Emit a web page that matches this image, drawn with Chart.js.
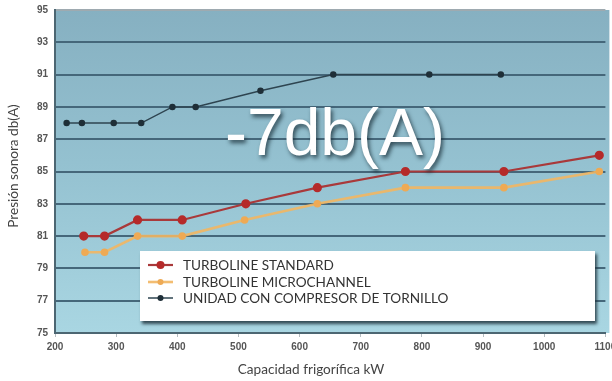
<!DOCTYPE html>
<html>
<head>
<meta charset="utf-8">
<script src="https://cdn.jsdelivr.net/npm/chart.js@4.4.1/dist/chart.umd.min.js"></script>
<style>
  html, body { margin: 0; padding: 0; background: #ffffff; }
  #wrap { width: 612px; height: 381px; }
</style>
</head>
<body>
<div id="wrap"><canvas id="c" width="612" height="381"></canvas></div>
<script>
// Capacidad frigorífica (kW) and sound pressure (dB(A)) per unit line
const kwTornillo = [219, 244, 296, 341, 392, 430, 536, 655, 812, 929];
const dbTornillo = [88, 88, 88, 88, 89, 89, 90, 91, 91, 91];

const kwStandard = [247, 281, 335, 408, 512, 629, 773, 934, 1090];
const dbStandard = [81, 81, 82, 82, 83, 84, 85, 85, 86];

const kwMicro = [249, 281, 335, 408, 510, 629, 773, 934, 1090];
const dbMicro = [80, 80, 81, 81, 82, 83, 84, 84, 85];

const seriesNames = ['TURBOLINE STANDARD', 'TURBOLINE MICROCHANNEL', 'UNIDAD CON COMPRESOR DE TORNILLO'];
const xTicks = [200, 300, 400, 500, 600, 700, 800, 900, 1000, 1100];
const yTicks = [75, 77, 79, 81, 83, 85, 87, 89, 91, 93, 95];
const bigLabel = '-7db(A)';
const yTitle = 'Presión sonora db(A)';
const xTitle = 'Capacidad frigorífica kW';

const toPoints = (xs, ys) => xs.map((x, i) => ({ x: x, y: ys[i] }));

// plot background gradient
const plotBackground = {
  id: 'plotBackground',
  beforeDraw(chart) {
    const { ctx, chartArea: a } = chart;
    const g = ctx.createLinearGradient(0, a.top, 0, a.bottom);
    g.addColorStop(0, '#86b0c1');
    g.addColorStop(0.5, '#95c2d1');
    g.addColorStop(1, '#a9d6e2');
    ctx.save();
    ctx.fillStyle = g;
    ctx.fillRect(a.left, a.top, a.right - a.left + 4, a.bottom - a.top);
    ctx.restore();
  }
};

// headline figure, axis titles and the boxed legend
const overlay = {
  id: 'overlay',
  afterDatasetsDraw(chart) {
    const { ctx } = chart;
    ctx.save();
    // big label
    ctx.font = '66px "Liberation Sans", Arial, sans-serif';
    ctx.textAlign = 'center';
    ctx.textBaseline = 'alphabetic';
    ctx.shadowColor = 'rgba(20,40,50,0.75)';
    ctx.shadowOffsetX = 2;
    ctx.shadowOffsetY = 3;
    ctx.shadowBlur = 4;
    ctx.fillStyle = '#ffffff';
    ctx.fillText(bigLabel, 335, 155);
    ctx.restore();

    // legend box
    ctx.save();
    const bx = 140, by = 251, bw = 455, bh = 70;
    ctx.shadowColor = 'rgba(30,50,60,0.85)';
    ctx.shadowOffsetX = 2;
    ctx.shadowOffsetY = 3;
    ctx.shadowBlur = 3;
    ctx.fillStyle = '#ffffff';
    ctx.fillRect(bx, by, bw, bh);
    ctx.restore();

    ctx.save();
    const rows = [265, 282, 298];
    chart.data.datasets.forEach((ds, i) => {
      const y = rows[i];
      ctx.strokeStyle = ds.borderColor;
      ctx.lineWidth = ds.borderWidth;
      ctx.beginPath();
      ctx.moveTo(148, y);
      ctx.lineTo(173, y);
      ctx.stroke();
      ctx.fillStyle = ds.pointBackgroundColor;
      ctx.beginPath();
      ctx.arc(160.5, y, ds.pointRadius + 0.5, 0, Math.PI * 2);
      ctx.fill();
      ctx.fillStyle = '#333333';
      ctx.font = '13.6px Lato, "Noto Sans", sans-serif';
      ctx.textAlign = 'left';
      ctx.textBaseline = 'middle';
      ctx.fillText(ds.label, 183, y + 1);
    });
    ctx.restore();

    // axis titles
    ctx.save();
    ctx.fillStyle = '#444444';
    ctx.font = '13.6px Lato, "Noto Sans", sans-serif';
    ctx.textAlign = 'center';
    ctx.textBaseline = 'middle';
    ctx.fillText(xTitle, 311, 370);
    ctx.translate(14, 166);
    ctx.rotate(-Math.PI / 2);
    ctx.fillText(yTitle, 0, 0);
    ctx.restore();
  }
};

const tickFont = { family: '"Liberation Sans", Arial, sans-serif', size: 10, weight: 'bold' };

new Chart(document.getElementById('c'), {
  type: 'line',
  data: {
    datasets: [
      {
        label: seriesNames[0],
        data: toPoints(kwStandard, dbStandard),
        borderColor: '#a9393a',
        backgroundColor: '#b52a2a',
        pointBackgroundColor: '#b52a2a',
        pointBorderColor: '#b52a2a',
        borderWidth: 2.2,
        pointRadius: 3.5,
        tension: 0
      },
      {
        label: seriesNames[1],
        data: toPoints(kwMicro, dbMicro),
        borderColor: 'rgba(242,182,98,0.9)',
        backgroundColor: '#eeaa55',
        pointBackgroundColor: '#eeaa55',
        pointBorderColor: '#eeaa55',
        borderWidth: 2.6,
        pointRadius: 2.5,
        tension: 0
      },
      {
        label: seriesNames[2],
        data: toPoints(kwTornillo, dbTornillo),
        borderColor: '#2e4450',
        backgroundColor: '#1f2f38',
        pointBackgroundColor: '#1f2f38',
        pointBorderColor: '#1f2f38',
        borderWidth: 1.5,
        pointRadius: 2.5,
        tension: 0
      }
    ]
  },
  options: {
    responsive: false,
    animation: false,
    events: [],
    layout: { padding: { top: 10, right: 3, left: 0, bottom: 0 } },
    plugins: {
      legend: { display: false },
      tooltip: { enabled: false },
      title: { display: false }
    },
    scales: {
      x: {
        type: 'linear',
        min: 200,
        max: 1100,
        afterBuildTicks(scale) { scale.ticks = xTicks.map(v => ({ value: v })); },
        afterFit(scale) { scale.height = 48; scale.paddingLeft = 0; scale.paddingRight = 0; },
        grid: {
          display: true,
          drawOnChartArea: false,
          drawTicks: true,
          tickLength: 4,
          color: 'rgba(150,160,165,0.7)'
        },
        border: { display: true, color: '#4c6672', width: 2 },
        ticks: {
          color: '#555555',
          font: tickFont,
          padding: 4,
          maxRotation: 0,
          autoSkip: false,
          callback: (v) => String(v)
        }
      },
      y: {
        type: 'linear',
        min: 75,
        max: 95,
        afterBuildTicks(scale) { scale.ticks = yTicks.map(v => ({ value: v })); },
        afterFit(scale) { scale.width = 55; scale.paddingTop = 0; scale.paddingBottom = 0; },
        grid: {
          color: (c) => (c.tick && c.tick.value === 95) ? '#9eaab0' : '#45677a',
          lineWidth: 2,
          drawTicks: false
        },
        border: { display: true, color: '#4c6672', width: 2 },
        ticks: {
          color: '#555555',
          font: tickFont,
          padding: 7,
          autoSkip: false,
          callback: (v) => String(v)
        }
      }
    }
  },
  plugins: [plotBackground, overlay]
});
</script>
</body>
</html>
